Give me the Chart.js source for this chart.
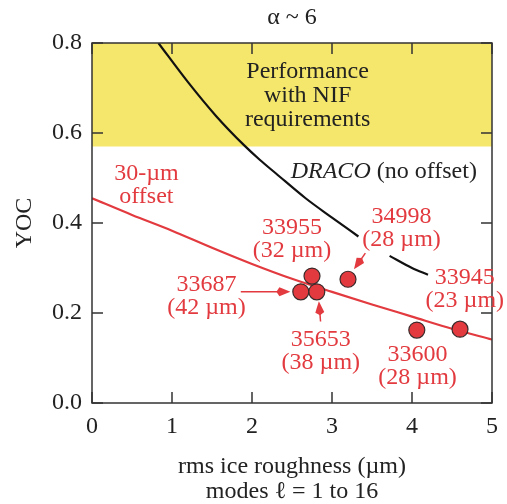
<!DOCTYPE html>
<html lang="en">

<head>
    <meta charset="UTF-8" />
    <title>YOC vs rms ice roughness</title>
    <script src="https://cdn.jsdelivr.net/npm/chart.js"></script>
    <style>
        body { margin: 0; background: #fff; }
        #wrap { width: 507px; height: 504px; position: relative; }
    </style>
</head>

<body>
    <div id="wrap"><canvas id="grafica"></canvas></div>

    <script>
        // shots
        const shotIds = ["33955", "34998", "33687", "35653", "33600", "33945"];
        const shotOffsets = ["(32 µm)", "(28 µm)", "(42 µm)", "(38 µm)", "(28 µm)", "(23 µm)"];
        const roughness = [2.75, 3.20, 2.61, 2.81, 4.06, 4.60];
        const yoc = [0.282, 0.275, 0.247, 0.247, 0.162, 0.164];
        // label centre (first line), in data units
        const labelX = [2.50, 3.87, 1.43, 2.86, 4.07, 4.66];
        const labelY = [0.389, 0.413, 0.262, 0.140, 0.107, 0.278];

        // 30-um offset curve
        const offsetX = [0, 0.5, 1, 1.5, 2, 2.5, 3, 3.5, 4, 4.5, 5];
        const offsetY = [0.455, 0.418, 0.383, 0.345, 0.309, 0.276, 0.247, 0.219, 0.192, 0.165, 0.141];

        // DRACO (no offset) curve, null = gap behind the label
        const dracoX = [0.83, 1.2, 1.55, 1.9, 2.1, 2.3, 2.67, 3.0, 3.33, 3.5, 3.72, 4.0, 4.2];
        const dracoY = [0.80, 0.713, 0.638, 0.573, 0.54, 0.51, 0.455, 0.412, 0.37, null, 0.327, 0.30, 0.285];

        const nifLimit = 0.57;
        const xTicks = [0, 1, 2, 3, 4, 5];
        const yTicks = [0, 0.2, 0.4, 0.6, 0.8];

        // arrows: [fromX, fromY, toX, toY]
        const arrows = [
            [1.86, 0.247, 2.48, 0.247],
            [2.857, 0.181, 2.836, 0.226],
            [3.417, 0.333, 3.275, 0.297]
        ];

        const RED = "#e23a3f";
        const SERIF = "'Liberation Serif', 'DejaVu Serif', serif";
        const FS = 24;

        function txt(ctx, s, x, y, opt = {}) {
            ctx.save();
            ctx.font = (opt.style || "") + " " + (opt.size || FS) + "px " + SERIF;
            ctx.fillStyle = opt.color || "#222";
            ctx.textAlign = opt.align || "center";
            ctx.textBaseline = "middle";
            ctx.fillText(s, x, y);
            ctx.restore();
        }

        const decor = {
            id: "decor",
            beforeDatasetsDraw(chart) {
                const { ctx, chartArea: a, scales: { x, y } } = chart;
                ctx.save();
                ctx.fillStyle = "#f5e76b";
                const yTop = y.getPixelForValue(0.8);
                const yBot = y.getPixelForValue(nifLimit);
                ctx.fillRect(a.left, yTop, a.right - a.left, yBot - yTop);
                ctx.restore();
            },
            afterDatasetsDraw(chart) {
                const { ctx, chartArea: a, scales: { x, y } } = chart;
                ctx.save();
                // frame + inward ticks
                ctx.strokeStyle = "#333";
                ctx.lineWidth = 1.5;
                ctx.strokeRect(a.left, a.top, a.right - a.left, a.bottom - a.top);
                ctx.beginPath();
                xTicks.forEach(v => {
                    const px = x.getPixelForValue(v);
                    ctx.moveTo(px, a.bottom); ctx.lineTo(px, a.bottom - 11);
                    ctx.moveTo(px, a.top); ctx.lineTo(px, a.top + 11);
                });
                yTicks.forEach(v => {
                    const py = y.getPixelForValue(v);
                    ctx.moveTo(a.left, py); ctx.lineTo(a.left + 11, py);
                    ctx.moveTo(a.right, py); ctx.lineTo(a.right - 11, py);
                });
                ctx.stroke();

                // arrows
                ctx.strokeStyle = RED;
                ctx.fillStyle = RED;
                ctx.lineWidth = 1.5;
                arrows.forEach(([x0, y0, x1, y1]) => {
                    const ax = x.getPixelForValue(x0), ay = y.getPixelForValue(y0);
                    const bx = x.getPixelForValue(x1), by = y.getPixelForValue(y1);
                    const ang = Math.atan2(by - ay, bx - ax);
                    const L = 11, W = 4.5;
                    const cx = bx - L * Math.cos(ang), cy = by - L * Math.sin(ang);
                    ctx.beginPath();
                    ctx.moveTo(ax, ay); ctx.lineTo(cx, cy);
                    ctx.stroke();
                    ctx.beginPath();
                    ctx.moveTo(bx, by);
                    ctx.lineTo(cx - W * Math.sin(ang), cy + W * Math.cos(ang));
                    ctx.lineTo(cx - 3 * Math.cos(ang), cy - 3 * Math.sin(ang));
                    ctx.lineTo(cx + W * Math.sin(ang), cy - W * Math.cos(ang));
                    ctx.closePath();
                    ctx.fill();
                });
                ctx.restore();

                // shot labels
                shotIds.forEach((id, i) => {
                    const px = x.getPixelForValue(labelX[i]);
                    const py = y.getPixelForValue(labelY[i]);
                    txt(ctx, id, px, py, { color: RED });
                    txt(ctx, shotOffsets[i], px, py + 23, { color: RED });
                });

                // curve labels
                const ox = x.getPixelForValue(0.68), oy = y.getPixelForValue(0.509);
                txt(ctx, "30-µm", ox, oy, { color: RED });
                txt(ctx, "offset", ox, oy + 23, { color: RED });

                const dx = x.getPixelForValue(2.484), dy = y.getPixelForValue(0.514);
                ctx.save();
                ctx.font = "italic " + FS + "px " + SERIF;
                const w = ctx.measureText("DRACO ").width;
                ctx.restore();
                txt(ctx, "DRACO", dx, dy, { style: "italic", align: "left" });
                txt(ctx, "(no offset)", dx + w, dy, { align: "left" });

                const nx = x.getPixelForValue(2.695), ny = y.getPixelForValue(0.736);
                txt(ctx, "Performance", nx, ny);
                txt(ctx, "with NIF", nx, ny + 24);
                txt(ctx, "requirements", nx, ny + 48);

                // titles
                const cxm = (a.left + a.right) / 2;
                txt(ctx, "α ~ 6", cxm, 18);
                txt(ctx, "rms ice roughness (µm)", cxm, 467);
                txt(ctx, "modes ℓ = 1 to 16", cxm, 492);
                ctx.save();
                ctx.translate(25, (a.top + a.bottom) / 2);
                ctx.rotate(-Math.PI / 2);
                txt(ctx, "YOC", 0, 0);
                ctx.restore();
            }
        };

        const ctx = document.getElementById("grafica").getContext("2d");
        new Chart(ctx, {
            type: "scatter",
            data: {
                datasets: [
                    {
                        label: "shots",
                        data: roughness.map((r, i) => ({ x: r, y: yoc[i] })),
                        backgroundColor: RED,
                        borderColor: "#3a2a2a",
                        borderWidth: 1.2,
                        pointRadius: 8,
                        order: 0
                    },
                    {
                        label: "30-µm offset",
                        data: offsetX.map((v, i) => ({ x: v, y: offsetY[i] })),
                        showLine: true,
                        borderColor: RED,
                        borderWidth: 2.2,
                        pointRadius: 0,
                        cubicInterpolationMode: "monotone",
                        order: 1
                    },
                    {
                        label: "DRACO (no offset)",
                        data: dracoX.map((v, i) => ({ x: v, y: dracoY[i] })),
                        showLine: true,
                        spanGaps: false,
                        borderColor: "#111",
                        borderWidth: 2.2,
                        pointRadius: 0,
                        cubicInterpolationMode: "monotone",
                        order: 2
                    }
                ]
            },
            options: {
                responsive: true,
                maintainAspectRatio: false,
                animation: false,
                events: [],
                layout: { padding: { left: 0, right: 13, top: 43, bottom: 0 } },
                plugins: { legend: { display: false }, tooltip: { enabled: false } },
                scales: {
                    x: {
                        min: 0, max: 5,
                        afterFit: s => { s.height = 101; },
                        grid: { display: false, drawTicks: false },
                        border: { display: false },
                        ticks: {
                            stepSize: 1, padding: 9, color: "#222",
                            font: { family: SERIF, size: FS }
                        }
                    },
                    y: {
                        min: 0, max: 0.8,
                        afterFit: s => { s.width = 92; },
                        grid: { display: false, drawTicks: false },
                        border: { display: false },
                        ticks: {
                            stepSize: 0.2, padding: 10, color: "#222",
                            font: { family: SERIF, size: FS },
                            callback: v => v.toFixed(1)
                        }
                    }
                }
            },
            plugins: [decor]
        });
    </script>
</body>

</html>
